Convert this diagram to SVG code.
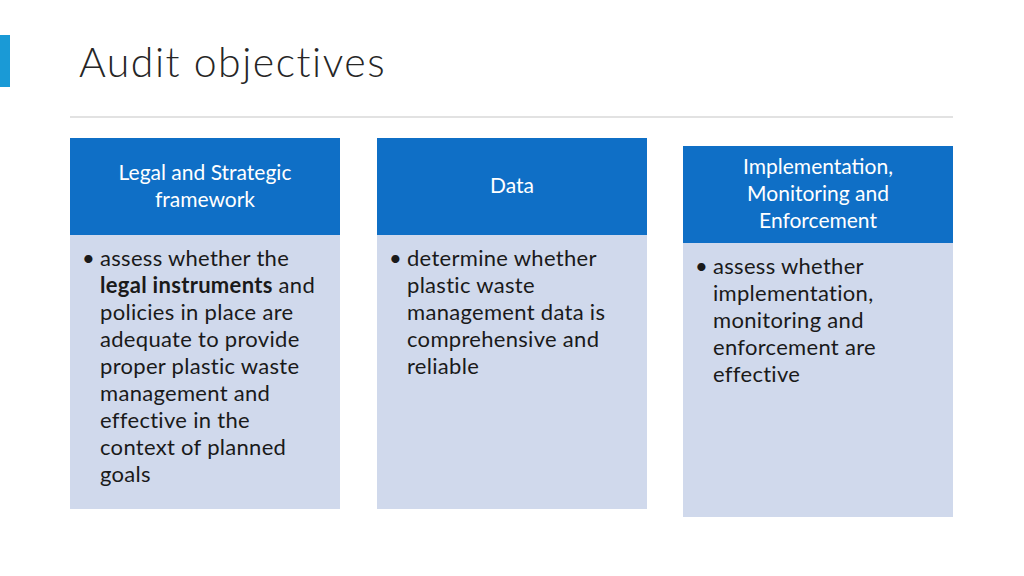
<svg xmlns="http://www.w3.org/2000/svg" width="1024" height="576" viewBox="0 0 1024 576">
<style>
.h{fill:#0f6fc6}.b{fill:#d0d9ec}
.ht{font-family:Lato,"Liberation Sans",sans-serif;font-size:21px;fill:#fff;text-anchor:middle}
.bt{font-family:Lato,"Liberation Sans",sans-serif;font-size:22px;letter-spacing:0.3px;fill:#1a1a1a}
</style>
<rect width="1024" height="576" fill="#fff"/>
<rect x="0" y="35" width="10" height="52" fill="#1a9ad6"/>
<text x="79" y="77" font-family="Lato,'Liberation Sans',sans-serif" font-weight="300" font-size="41" letter-spacing="1.5" fill="#262626">Audit objectives</text>
<line x1="70" y1="117" x2="953" y2="117" stroke="#d9d9d9" stroke-width="1.5"/>
<g id="n1">
<rect class="h" x="70" y="138" width="270" height="97"/>
<rect class="b" x="70" y="235" width="270" height="274"/>
<text class="ht" x="205" y="180">Legal and Strategic</text>
<text class="ht" x="205" y="207">framework</text>
<text class="bt"><tspan x="82" y="266">•</tspan><tspan x="100" y="266">assess whether the</tspan><tspan x="100" y="293" font-weight="bold">legal instruments</tspan><tspan> and</tspan><tspan x="100" y="320">policies in place are</tspan><tspan x="100" y="347">adequate to provide</tspan><tspan x="100" y="374">proper plastic waste</tspan><tspan x="100" y="401">management and</tspan><tspan x="100" y="428">effective in the</tspan><tspan x="100" y="455">context of planned</tspan><tspan x="100" y="482">goals</tspan></text>
</g>
<g id="n2">
<rect class="h" x="377" y="138" width="270" height="97"/>
<rect class="b" x="377" y="235" width="270" height="274"/>
<text class="ht" x="512" y="193">Data</text>
<text class="bt"><tspan x="389" y="266">•</tspan><tspan x="407" y="266">determine whether</tspan><tspan x="407" y="293">plastic waste</tspan><tspan x="407" y="320">management data is</tspan><tspan x="407" y="347">comprehensive and</tspan><tspan x="407" y="374">reliable</tspan></text>
</g>
<g id="n3">
<rect class="h" x="683" y="146" width="270" height="97"/>
<rect class="b" x="683" y="243" width="270" height="274"/>
<text class="ht" x="818" y="174">Implementation,</text>
<text class="ht" x="818" y="201">Monitoring and</text>
<text class="ht" x="818" y="228">Enforcement</text>
<text class="bt"><tspan x="695" y="274">•</tspan><tspan x="713" y="274">assess whether</tspan><tspan x="713" y="301">implementation,</tspan><tspan x="713" y="328">monitoring and</tspan><tspan x="713" y="355">enforcement are</tspan><tspan x="713" y="382">effective</tspan></text>
</g>
<g id="connectors"/>
</svg>
